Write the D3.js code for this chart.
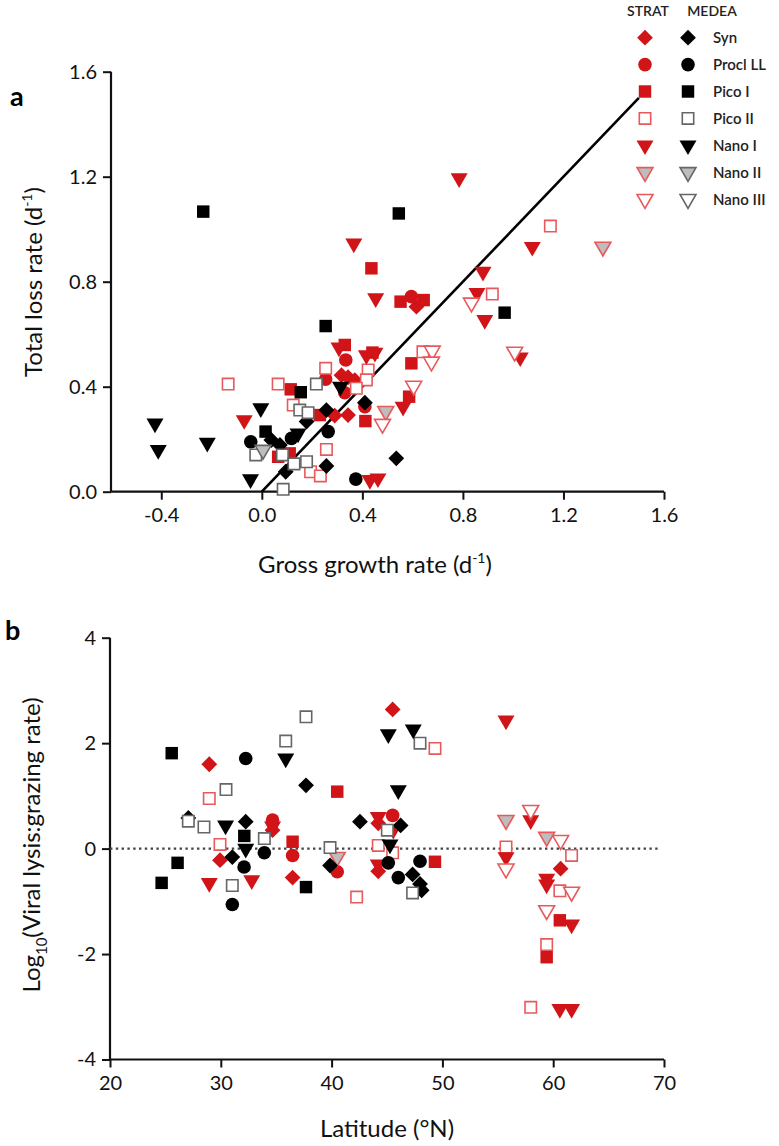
<!DOCTYPE html>
<html><head><meta charset="utf-8">
<script src="https://cdn.jsdelivr.net/npm/d3@7"></script>
<style>body{margin:0;background:#fff}svg{display:block;font-family:Lato,"Open Sans",sans-serif}</style>
</head><body><svg id="c" width="779" height="1146"></svg>
<script>
// ---------- data ----------
const groups = ["Syn","Procl LL","Pico I","Pico II","Nano I","Nano II","Nano III"];
const cruises = ["STRAT","MEDEA"];
const xTicksA = [-0.4,0,0.4,0.8,1.2,1.6];
const yTicksA = [0,0.4,0.8,1.2,1.6];
const xTicksB = [20,30,40,50,60,70];
const yTicksB = [-4,-2,0,2,4];
const oneToOne = [[0,0],[1.5,1.5]];
// panel a: [cruise, group, gross growth rate, total loss rate]
const panelA = [
 ["STRAT","Syn",0.317,0.444],["STRAT","Syn",0.343,0.436],["STRAT","Syn",0.37,0.425],["STRAT","Syn",0.343,0.292],["STRAT","Syn",0.615,0.705],["STRAT","Syn",0.29,0.29],
 ["STRAT","Procl LL",0.334,0.502],["STRAT","Procl LL",0.254,0.429],["STRAT","Procl LL",0.33,0.377],["STRAT","Procl LL",0.41,0.324],["STRAT","Procl LL",0.595,0.743],
 ["STRAT","Pico I",0.436,0.851],["STRAT","Pico I",0.33,0.559],["STRAT","Pico I",0.44,0.53],["STRAT","Pico I",0.115,0.39],["STRAT","Pico I",0.231,0.292],["STRAT","Pico I",0.412,0.269],["STRAT","Pico I",0.065,0.133],["STRAT","Pico I",0.111,0.146],["STRAT","Pico I",0.552,0.724],["STRAT","Pico I",0.644,0.73],["STRAT","Pico I",0.595,0.489],["STRAT","Pico I",0.586,0.362],
 ["STRAT","Pico II",0.254,0.47],["STRAT","Pico II",0.423,0.464],["STRAT","Pico II",0.416,0.426],["STRAT","Pico II",-0.134,0.41],["STRAT","Pico II",0.065,0.41],["STRAT","Pico II",0.376,0.394],["STRAT","Pico II",0.125,0.33],["STRAT","Pico II",0.257,0.161],["STRAT","Pico II",0.194,0.076],["STRAT","Pico II",0.233,0.06],["STRAT","Pico II",1.148,1.012],["STRAT","Pico II",0.917,0.753],["STRAT","Pico II",0.641,0.533],
 ["STRAT","Nano I",0.453,0.737],["STRAT","Nano I",0.307,0.55],["STRAT","Nano I",0.416,0.52],["STRAT","Nano I",0.45,0.53],["STRAT","Nano I",-0.07,0.273],["STRAT","Nano I",0.43,0.045],["STRAT","Nano I",0.462,0.051],["STRAT","Nano I",0.366,0.946],["STRAT","Nano I",0.785,1.194],["STRAT","Nano I",1.076,0.933],["STRAT","Nano I",0.88,0.838],["STRAT","Nano I",0.856,0.757],["STRAT","Nano I",0.887,0.654],["STRAT","Nano I",1.028,0.512],["STRAT","Nano I",0.562,0.324],
 ["STRAT","Nano II",1.357,0.933],["STRAT","Nano II",0.493,0.307],
 ["STRAT","Nano III",0.834,0.72],["STRAT","Nano III",1.006,0.533],["STRAT","Nano III",0.678,0.537],["STRAT","Nano III",0.675,0.495],["STRAT","Nano III",0.604,0.403],["STRAT","Nano III",0.48,0.258],
 ["MEDEA","Syn",0.41,0.339],["MEDEA","Syn",0.257,0.311],["MEDEA","Syn",0.178,0.267],["MEDEA","Syn",0.038,0.197],["MEDEA","Syn",0.072,0.178],["MEDEA","Syn",0.095,0.076],["MEDEA","Syn",0.257,0.098],["MEDEA","Syn",0.535,0.127],
 ["MEDEA","Procl LL",-0.044,0.19],["MEDEA","Procl LL",0.118,0.203],["MEDEA","Procl LL",0.264,0.229],["MEDEA","Procl LL",0.374,0.048],
 ["MEDEA","Pico I",-0.233,1.067],["MEDEA","Pico I",0.545,1.06],["MEDEA","Pico I",0.254,0.631],["MEDEA","Pico I",0.155,0.379],["MEDEA","Pico I",0.015,0.229],["MEDEA","Pico I",0.966,0.682],
 ["MEDEA","Pico II",0.217,0.41],["MEDEA","Pico II",0.151,0.311],["MEDEA","Pico II",0.184,0.301],["MEDEA","Pico II",-0.024,0.14],["MEDEA","Pico II",0.082,0.14],["MEDEA","Pico II",0.128,0.106],["MEDEA","Pico II",0.178,0.114],["MEDEA","Pico II",0.085,0.009],
 ["MEDEA","Nano I",0.313,0.40],["MEDEA","Nano I",-0.004,0.318],["MEDEA","Nano I",-0.425,0.26],["MEDEA","Nano I",-0.412,0.159],["MEDEA","Nano I",-0.217,0.187],["MEDEA","Nano I",0.144,0.222],["MEDEA","Nano I",-0.045,0.048],
 ["MEDEA","Nano II",0.005,0.159]
];
// panel b: [cruise, group, latitude, log10(viral lysis:grazing)]
const panelB = [
 ["STRAT","Syn",28.96,1.60],["STRAT","Syn",29.93,-0.22],["STRAT","Syn",34.67,0.35],["STRAT","Syn",36.48,-0.55],["STRAT","Syn",44.21,0.48],["STRAT","Syn",45.51,2.64],["STRAT","Syn",44.21,-0.43],["STRAT","Syn",60.67,-0.38],
 ["STRAT","Procl LL",34.67,0.54],["STRAT","Procl LL",36.48,-0.13],["STRAT","Procl LL",45.51,0.63],["STRAT","Procl LL",40.51,-0.44],
 ["STRAT","Pico I",40.51,1.08],["STRAT","Pico I",36.48,0.13],["STRAT","Pico I",49.33,-0.25],["STRAT","Pico I",60.6,-1.36],["STRAT","Pico I",59.41,-2.06],
 ["STRAT","Pico II",28.96,0.95],["STRAT","Pico II",29.93,0.08],["STRAT","Pico II",44.21,0.06],["STRAT","Pico II",45.51,-0.08],["STRAT","Pico II",49.33,1.90],["STRAT","Pico II",42.26,-0.92],["STRAT","Pico II",55.74,0.03],["STRAT","Pico II",61.66,-0.13],["STRAT","Pico II",60.6,-0.8],["STRAT","Pico II",59.41,-1.82],["STRAT","Pico II",57.97,-3.01],
 ["STRAT","Nano I",28.96,-0.65],["STRAT","Nano I",32.79,-0.6],["STRAT","Nano I",34.67,0.42],["STRAT","Nano I",44.21,0.6],["STRAT","Nano I",45.57,0.36],["STRAT","Nano I",55.74,2.43],["STRAT","Nano I",55.74,-0.16],["STRAT","Nano I",57.97,0.54],["STRAT","Nano I",59.41,-0.57],["STRAT","Nano I",59.41,-0.68],["STRAT","Nano I",61.66,-1.44],["STRAT","Nano I",60.6,-3.04],["STRAT","Nano I",61.66,-3.04],["STRAT","Nano I",44.21,-0.3],
 ["STRAT","Nano II",55.74,0.54],["STRAT","Nano II",59.41,0.22],["STRAT","Nano II",40.51,-0.16],
 ["STRAT","Nano III",55.74,-0.38],["STRAT","Nano III",57.97,0.73],["STRAT","Nano III",60.67,0.16],["STRAT","Nano III",61.66,-0.82],["STRAT","Nano III",59.41,-1.17],
 ["MEDEA","Syn",27.07,0.58],["MEDEA","Syn",32.25,0.51],["MEDEA","Syn",31.04,-0.16],["MEDEA","Syn",37.69,1.20],["MEDEA","Syn",42.56,0.51],["MEDEA","Syn",46.23,0.44],["MEDEA","Syn",39.86,-0.32],["MEDEA","Syn",47.31,-0.49],["MEDEA","Syn",47.98,-0.67],["MEDEA","Syn",48.13,-0.79],
 ["MEDEA","Procl LL",32.25,1.71],["MEDEA","Procl LL",33.93,-0.08],["MEDEA","Procl LL",32.1,-0.35],["MEDEA","Procl LL",31.04,-1.06],["MEDEA","Procl LL",45.12,-0.27],["MEDEA","Procl LL",47.98,-0.24],["MEDEA","Procl LL",46.02,-0.55],
 ["MEDEA","Pico I",25.57,1.81],["MEDEA","Pico I",32.12,0.24],["MEDEA","Pico I",26.1,-0.27],["MEDEA","Pico I",24.66,-0.65],["MEDEA","Pico I",37.69,-0.73],
 ["MEDEA","Pico II",27.07,0.52],["MEDEA","Pico II",30.47,1.12],["MEDEA","Pico II",28.48,0.41],["MEDEA","Pico II",33.93,0.19],["MEDEA","Pico II",31.04,-0.70],["MEDEA","Pico II",35.86,2.04],["MEDEA","Pico II",37.69,2.50],["MEDEA","Pico II",47.98,2.0],["MEDEA","Pico II",45.03,0.35],["MEDEA","Pico II",39.86,0.02],["MEDEA","Pico II",47.31,-0.84],
 ["MEDEA","Nano I",30.43,0.44],["MEDEA","Nano I",32.25,0.0],["MEDEA","Nano I",35.86,1.71],["MEDEA","Nano I",45.12,2.17],["MEDEA","Nano I",47.37,2.26],["MEDEA","Nano I",46.02,1.11],["MEDEA","Nano I",45.27,0.08]
];

// ---------- styles ----------
const RED = "#d01418", RED_L = "#e8595c", GREY_F = "#bdbdbd";
function style(cruise, group){
  const s = cruise === "STRAT";
  const main = s ? RED : "#000";
  const line = s ? RED_L : "#666";
  switch(group){
    case "Pico II": case "Nano III": return {fill: "#fff", stroke: line, sw: 1.6};
    case "Nano II": return {fill: GREY_F, stroke: line, sw: 1.6};
    default: return {fill: main, stroke: "none", sw: 0};
  }
}
function shape(group){
  if (group === "Syn") return {type: d3.symbolSquare, size: 125, rot: 45};
  if (group === "Procl LL") return {type: d3.symbolCircle, size: 145, rot: 0};
  if (group === "Pico I") return {type: d3.symbolSquare, size: 155, rot: 0};
  if (group === "Pico II") return {type: d3.symbolSquare, size: 130, rot: 0};
  if (group === "Nano I") return {type: d3.symbolTriangle, size: 125, rot: 180};
  return {type: d3.symbolTriangle, size: 110, rot: 180};
}
function drawMarks(g, data, xs, ys){
  g.selectAll("path.m").data(data).join("path").attr("class","m")
   .attr("d", d => d3.symbol().type(shape(d[1]).type).size(shape(d[1]).size)())
   .attr("transform", d => `translate(${xs(d[2])},${ys(d[3])}) rotate(${shape(d[1]).rot})`)
   .attr("fill", d => style(d[0],d[1]).fill)
   .attr("stroke", d => style(d[0],d[1]).stroke)
   .attr("stroke-width", d => style(d[0],d[1]).sw);
}

const svg = d3.select("#c");
const FONT = "Lato, 'Open Sans', sans-serif";
const hy = f => v => f(v).replace("\u2212","-");

function axes(g, xs, ys, xt, yt, xMinor, yMinor, xfmt, yfmt){
  const y0 = ys.range()[0], x0 = xs.range()[0];
  const gx = g.append("g").attr("transform", `translate(0,${y0})`);
  gx.call(d3.axisBottom(xs).tickValues(xMinor).tickSize(5).tickFormat(""));
  gx.call(d3.axisBottom(xs).tickValues(xt).tickSize(8).tickPadding(8).tickFormat(xfmt));
  const gy = g.append("g").attr("transform", `translate(${x0},0)`);
  gy.call(d3.axisLeft(ys).tickValues(yMinor).tickSize(5).tickFormat(""));
  gy.call(d3.axisLeft(ys).tickValues(yt).tickSize(8).tickPadding(6).tickFormat(yfmt));
  [gx, gy].forEach(a => {
    a.selectAll("path.domain").attr("stroke","#111").attr("stroke-width",2.2);
    a.selectAll(".tick line").attr("stroke","#111").attr("stroke-width",2);
    a.selectAll(".tick text").attr("font-family",FONT).attr("font-size",20).attr("fill","#111");
  });
  gx.selectAll("path.domain").attr("d", `M${xs.range()[0]},0H${xs.range()[1]}`);
  gy.selectAll("path.domain").attr("d", `M0,${ys.range()[0]}V${ys.range()[1]}`);
}

// ---------- panel a ----------
const xA = d3.scaleLinear().domain([-0.6,1.6]).range([111,664]);
const yA = d3.scaleLinear().domain([0,1.6]).range([491.7,71.7]);
const gA = svg.append("g");
axes(gA, xA, yA, xTicksA, yTicksA, [-0.6,-0.2,0.2,0.6,1.0,1.4], [0.2,0.6,1.0,1.4], hy(d3.format(".1f")), hy(d3.format(".1f")));
gA.append("line").attr("x1",xA(oneToOne[0][0])).attr("y1",yA(oneToOne[0][1]))
  .attr("x2",xA(oneToOne[1][0])).attr("y2",yA(oneToOne[1][1])).attr("stroke","#000").attr("stroke-width",2.6);
drawMarks(gA.append("g"), panelA, xA, yA);

// ---------- panel b ----------
const xB = d3.scaleLinear().domain([20,70]).range([110,664]);
const yB = d3.scaleLinear().domain([-4,4]).range([1059.5,637.7]);
const gB = svg.append("g");
axes(gB, xB, yB, xTicksB, yTicksB, [25,35,45,55,65], [-3,-1,1,3], hy(d3.format("d")), hy(d3.format("d")));
gB.append("line").attr("x1",xB(20)).attr("x2",xB(69.5)).attr("y1",yB(0)).attr("y2",yB(0))
  .attr("stroke","#444").attr("stroke-width",2.4).attr("stroke-dasharray","2.4,3.4");
drawMarks(gB.append("g"), panelB, xB, yB);

// ---------- labels ----------
svg.append("text").attr("x",10).attr("y",106).attr("font-family",FONT).attr("font-weight",700).attr("font-size",27).text("a");
svg.append("text").attr("x",5).attr("y",640).attr("font-family",FONT).attr("font-weight",700).attr("font-size",27).text("b");

const xl = svg.append("text").attr("x",375).attr("y",573).attr("text-anchor","middle").attr("font-family",FONT).attr("font-size",24).attr("fill","#111");
xl.append("tspan").text("Gross growth rate (d");
xl.append("tspan").attr("dy",-10).attr("font-size",14).text("-1");
xl.append("tspan").attr("dy",10).text(")");

const yl = svg.append("text").attr("transform","translate(42,282) rotate(-90)").attr("text-anchor","middle").attr("font-family",FONT).attr("font-size",24).attr("fill","#111");
yl.append("tspan").text("Total loss rate (d");
yl.append("tspan").attr("dy",-10).attr("font-size",14).text("-1");
yl.append("tspan").attr("dy",10).text(")");

svg.append("text").attr("x",387).attr("y",1137).attr("text-anchor","middle").attr("font-family",FONT).attr("font-size",24).attr("fill","#111").text("Latitude (°N)");

const yl2 = svg.append("text").attr("transform","translate(40,845) rotate(-90)").attr("text-anchor","middle").attr("font-family",FONT).attr("font-size",24).attr("fill","#111");
yl2.append("tspan").text("Log");
yl2.append("tspan").attr("dy",7).attr("font-size",15).text("10");
yl2.append("tspan").attr("dy",-7).text("(Viral lysis:grazing rate)");

// ---------- legend ----------
const lg = svg.append("g");
lg.append("text").attr("x",648).attr("y",16).attr("text-anchor","middle").attr("font-family",FONT).attr("font-size",14).attr("font-weight",600).attr("fill","#222").text(cruises[0]);
lg.append("text").attr("x",712).attr("y",16).attr("text-anchor","middle").attr("font-family",FONT).attr("font-size",14).attr("font-weight",600).attr("fill","#222").text(cruises[1]);
const rowY = i => 37.7 + i*26.9;
const legData = [];
groups.forEach((g,i) => { legData.push(["STRAT",g,645,rowY(i)]); legData.push(["MEDEA",g,688,rowY(i)]); });
const lx = d3.scaleIdentity(), ly = d3.scaleIdentity();
drawMarks(lg.append("g"), legData, lx, ly);
groups.forEach((g,i) => lg.append("text").attr("x",713).attr("y",rowY(i)+5.5).attr("font-family",FONT).attr("font-size",15).attr("font-weight",600).attr("fill","#222").text(g));
</script></body></html>
